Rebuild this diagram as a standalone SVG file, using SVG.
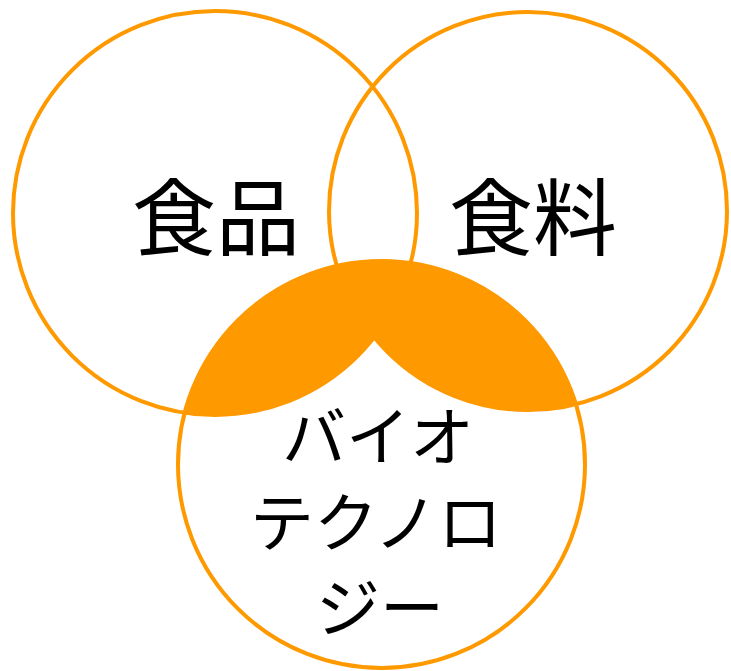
<svg xmlns="http://www.w3.org/2000/svg" width="731" height="671" viewBox="0 0 731 671">
  <style>
    .ring { fill: none; stroke: #FF9900; stroke-width: 4; }
    .big { font-family: "Noto Sans CJK JP", "Noto Sans CJK SC", sans-serif; font-size: 84px; fill: #000; text-anchor: middle; }
    .kana { font-family: "Noto Sans CJK JP", "Noto Sans CJK SC", sans-serif; font-size: 64px; fill: #000; text-anchor: middle; }
  </style>
  <defs>
    <clipPath id="topTwo">
      <circle cx="215" cy="213" r="202"/>
      <circle cx="528" cy="211" r="199"/>
    </clipPath>
  </defs>
  <rect x="0" y="0" width="731" height="671" fill="#fff"/>
  <g id="food">
    <circle class="ring" cx="215" cy="213" r="202"/>
    <text class="big" x="216" y="249">食品</text>
  </g>
  <g id="feed">
    <circle class="ring" cx="528" cy="211" r="199"/>
    <text class="big" x="533" y="249">食料</text>
  </g>
  <g id="biotech">
    <circle class="ring" cx="381.5" cy="464.5" r="203.5"/>
    <text class="kana" x="378" y="460">バイオ</text>
    <text class="kana" x="376" y="546">テクノロ</text>
    <text class="kana" x="380" y="631">ジー</text>
  </g>
  <g id="overlap">
    <circle cx="381.5" cy="464.5" r="205" fill="#FF9900" clip-path="url(#topTwo)"/>
  </g>
  <g id="connectors"/>
</svg>
